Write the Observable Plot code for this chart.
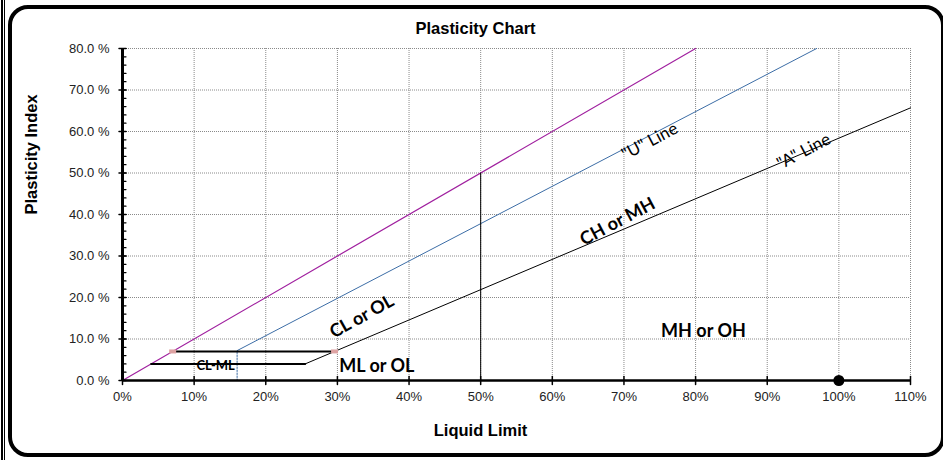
<!DOCTYPE html>
<html><head><meta charset="utf-8">
<script src="https://cdn.jsdelivr.net/npm/d3@7"></script>
<script src="https://cdn.jsdelivr.net/npm/@observablehq/plot@0.6"></script>
<style>
html,body{margin:0;padding:0;background:#fff;overflow:hidden}
#wrap{position:relative;width:943px;height:460px;overflow:hidden;background:#fff}
#wrap svg{position:absolute;left:0;top:0}
.edge{position:absolute;pointer-events:none;box-sizing:border-box}
</style></head><body>
<div id="wrap"></div>
<script>
// ---- data ----
const xTicks = [0,10,20,30,40,50,60,70,80,90,100,110];
const yTicks = [0,10,20,30,40,50,60,70,80];
const yMinorTicks = [0,2,4,6,8,10,12,14,16,18,20,22,24,26,28,30,32,34,36,38,40,42,44,46,48,50,52,54,56,58,60,62,64,66,68,70,72,74,76,78,80];
const xTickLabels = ["0%","10%","20%","30%","40%","50%","60%","70%","80%","90%","100%","110%"];
const yTickLabels = ["0.0 %","10.0 %","20.0 %","30.0 %","40.0 %","50.0 %","60.0 %","70.0 %","80.0 %"];

const upperLL = [0, 80];      const upperPI = [0, 80];
const uLineLL = [16, 96.9];   const uLinePI = [7.2, 80];
const uDropLL = [16, 16];     const uDropPI = [0, 7.2];
const aLineLL = [25.5, 110];  const aLinePI = [4, 65.7];
const band7LL = [7, 29.6];    const band7PI = [7, 7];
const band4LL = [4, 25.5];    const band4PI = [4, 4];
const ll50LL  = [50, 50];     const ll50PI  = [0, 50];
const markerLL = [7, 29.6];   const markerPI = [7, 7];
const sampleLL = [100];       const samplePI = [0];

const zoneNames = ["CL or OL", "CH or MH", "ML or OL", "MH or OH"];
const zoneLL    = [33.4, 69.1, 35.5, 81.1];
const zonePI    = [15.4, 38.3, 3.4, 11.8];
const zoneRot   = [-29, -28, 0, 0];

const lineNames = ['"U" Line', '"A" Line'];
const lineLL    = [73.6, 95.1];
const linePI    = [57.6, 55.2];
const lineRot   = [-28, -28];

const smallName = ["CL-ML"]; const smallLL = [13]; const smallPI = [3.6];

const chartTitle = "Plasticity Chart";
const xTitle = "Liquid Limit";
const yTitle = "Plasticity Index";

// ---- helpers ----
const pts = (xs, ys) => xs.map((x, i) => ({x, y: ys[i]}));
const rows = (names, xs, ys, rs) => names.map((n, i) => ({n, x: xs[i], y: ys[i], r: rs ? rs[i] : 0}));
const tickShape = {draw(ctx, l) { ctx.moveTo(0, 0); ctx.lineTo(0, -l); }};
const pinkRect = {draw(ctx) { ctx.rect(-3.5, -2, 7, 4); }};
const grid = {stroke: "#8a8a8a", strokeOpacity: 1, strokeDasharray: "1,1", strokeWidth: 1};
const sans = "'Liberation Sans', Arial, sans-serif";
const cal = "Lato, 'Open Sans', sans-serif";

const chart = Plot.plot({
  width: 943, height: 460,
  marginLeft: 122, marginRight: 33, marginTop: 48, marginBottom: 80,
  x: {domain: [0, 110], axis: null},
  y: {domain: [0, 80], axis: null},
  style: {fontFamily: sans, background: "transparent", color: "#111"},
  marks: [
    Plot.gridX(xTicks.filter(d => d > 0), grid),
    Plot.gridY(yTicks.filter(d => d > 0), grid),
    Plot.line(pts(upperLL, upperPI), {x: "x", y: "y", stroke: "#a0209f", strokeWidth: 1.2}),
    Plot.line(pts(uLineLL, uLinePI), {x: "x", y: "y", stroke: "#3c6da6", strokeWidth: 1}),
    Plot.line(pts(uDropLL, uDropPI), {x: "x", y: "y", stroke: "#3c6da6", strokeWidth: 1, strokeDasharray: "1.5,1.5"}),
    Plot.line(pts(aLineLL, aLinePI), {x: "x", y: "y", stroke: "#000", strokeWidth: 1}),
    Plot.line(pts(ll50LL, ll50PI), {x: "x", y: "y", stroke: "#000", strokeWidth: 1}),
    Plot.line(pts(band7LL, band7PI), {x: "x", y: "y", stroke: "#000", strokeWidth: 2}),
    Plot.line(pts(band4LL, band4PI), {x: "x", y: "y", stroke: "#000", strokeWidth: 2}),
    Plot.dot(pts(markerLL, markerPI), {x: "x", y: "y", symbol: pinkRect, fill: "#dda2a2", stroke: "none", r: 3}),
    Plot.ruleX([0], {stroke: "#000", strokeWidth: 3}),
    Plot.ruleY([0], {stroke: "#000", strokeWidth: 2.5}),
    // ticks
    Plot.vector(xTicks, {x: d => d, y: d => 0, length: 8, rotate: 0, anchor: "middle", shape: tickShape, stroke: "#000", strokeWidth: 1.5}),
    Plot.vector(yTicks, {x: d => 0, y: d => d, length: 7, rotate: 90, anchor: "middle", shape: tickShape, stroke: "#000", strokeWidth: 1.5}),
    Plot.vector(yMinorTicks, {x: d => 0, y: d => d, length: 3.5, rotate: 90, anchor: "start", shape: tickShape, stroke: "#000", strokeWidth: 1.2}),
    // tick labels
    Plot.text(xTicks, {x: d => d, y: d => 0, dy: 16, text: (d, i) => xTickLabels[i], fontSize: 13, fill: "#222", textAnchor: "middle", lineAnchor: "middle"}),
    Plot.text(yTicks, {x: d => 0, y: d => d, dx: -13, text: (d, i) => yTickLabels[i], fontSize: 13, fill: "#222", textAnchor: "end", lineAnchor: "middle"}),
    // sample point
    Plot.dot(pts(sampleLL, samplePI), {x: "x", y: "y", r: 5.5, fill: "#000"}),
    // zone labels
    Plot.text(rows(zoneNames, zoneLL, zonePI, zoneRot), {x: "x", y: "y", text: "n", rotate: "r", fontFamily: cal, fontWeight: "bold", fontSize: 18, fill: "#000", textAnchor: "middle", lineAnchor: "middle"}),
    Plot.text(rows(lineNames, lineLL, linePI, lineRot), {x: "x", y: "y", text: "n", rotate: "r", fontFamily: cal, fontSize: 17, fill: "#000", textAnchor: "middle", lineAnchor: "middle"}),
    Plot.text(rows(smallName, smallLL, smallPI), {x: "x", y: "y", text: "n", fontFamily: cal, fontWeight: "bold", fontSize: 13, fill: "#000", textAnchor: "middle", lineAnchor: "middle"}),
    // titles
    Plot.text([chartTitle], {frameAnchor: "top", dx: -41, dy: -20, text: d => d, fontWeight: "bold", fontSize: 16.5, fill: "#000", lineAnchor: "middle"}),
    Plot.text([xTitle], {frameAnchor: "bottom", dx: -36, dy: 50, text: d => d, fontWeight: "bold", fontSize: 16.5, fill: "#000", lineAnchor: "middle"}),
    Plot.text([yTitle], {frameAnchor: "left", dx: -91, text: d => d, rotate: -90, fontWeight: "bold", fontSize: 16.5, fill: "#000", lineAnchor: "middle"})
  ]
});

const wrap = document.getElementById("wrap");
wrap.appendChild(chart);
const addEdge = (css) => { const d = document.createElement("div"); d.className = "edge"; Object.assign(d.style, css); wrap.appendChild(d); };
addEdge({left: "1px", top: "0px", width: "2px", height: "460px", background: "#000"});
addEdge({left: "4px", top: "0px", width: "1px", height: "460px", background: "#000"});
addEdge({left: "8px", top: "5px", width: "937px", height: "452px", border: "4px solid #000", borderRadius: "20px"});
</script>
</body></html>
